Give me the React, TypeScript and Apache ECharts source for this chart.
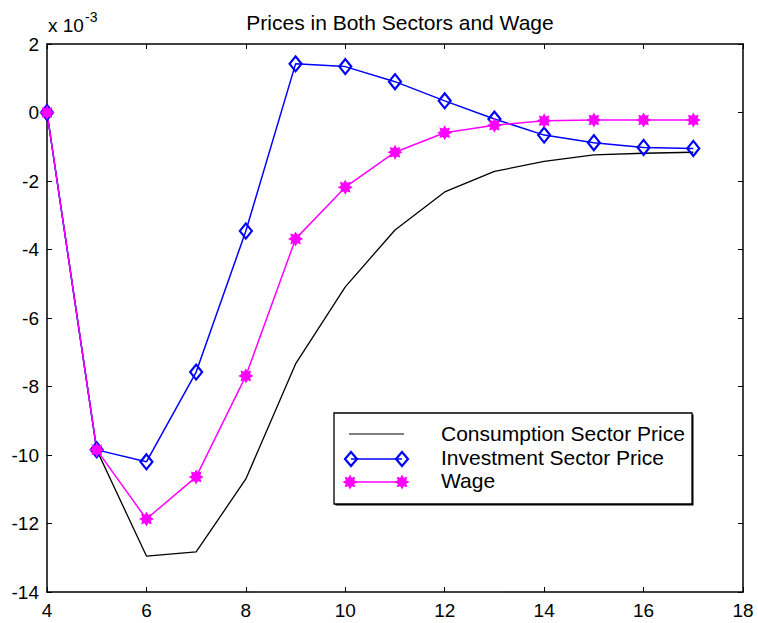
import React, { useEffect, useRef } from "react";
import * as echarts from "echarts";

const xValues = [4, 5, 6, 7, 8, 9, 10, 11, 12, 13, 14, 15, 16, 17];
const consumptionPrice = [0, -9.85, -12.95, -12.83, -10.7, -7.34, -5.09, -3.43, -2.32, -1.72, -1.43, -1.24, -1.19, -1.16];
const investmentPrice = [0, -9.85, -10.2, -7.58, -3.46, 1.42, 1.34, 0.9, 0.34, -0.19, -0.66, -0.88, -1.02, -1.05];
const wage = [0, -9.85, -11.87, -10.64, -7.69, -3.69, -2.18, -1.16, -0.59, -0.37, -0.24, -0.22, -0.22, -0.22];
const seriesNames = ["Consumption Sector Price", "Investment Sector Price", "Wage"];
const titleText = "Prices in Both Sectors and Wage";

function starPoints(cx: number, cy: number, R: number, r: number): number[][] {
  const pts: number[][] = [];
  for (let k = 0; k < 16; k++) {
    const a = (k * Math.PI) / 8;
    const rr = k % 2 === 0 ? R : r;
    pts.push([cx + rr * Math.cos(a), cy + rr * Math.sin(a)]);
  }
  return pts;
}

function starPath(): string {
  const pts = starPoints(10, 10, 10, 6.2).map((p) => `${p[0].toFixed(2)} ${p[1].toFixed(2)}`);
  return "path://M" + pts.join(" L") + " Z";
}

const FONT = "'Liberation Sans', Arial, sans-serif";

export default function App() {
  const ref = useRef<HTMLDivElement>(null);
  useEffect(() => {
    if (!ref.current) return;
    const chart = echarts.init(ref.current, null, { renderer: "svg" });
    const star = starPath();
    const toPairs = (arr: number[]) => arr.map((v, i) => [xValues[i], v]);
    const axisCommon = {
      axisLine: { show: true, onZero: false, lineStyle: { color: "#000", width: 1.5 } },
      axisTick: { show: true, inside: true, length: 5, lineStyle: { color: "#000", width: 1 } },
      splitLine: { show: false },
    };
    const legX = 334, legY = 413, legW = 358, legH = 91;
    const rowY = [435, 459, 482];
    chart.setOption({
      animation: false,
      backgroundColor: "#fff",
      title: {
        text: titleText,
        left: 395,
        textAlign: "center",
        top: 7,
        textStyle: { fontFamily: FONT, fontSize: 21, fontWeight: "normal", color: "#000" },
      },
      grid: { left: 47, right: 15, top: 44, bottom: 31 },
      xAxis: [
        {
          type: "value", min: 4, max: 18, interval: 2, position: "bottom",
          ...axisCommon,
          axisLabel: { fontFamily: FONT, fontSize: 19, color: "#000", margin: 9 },
        },
        {
          type: "value", min: 4, max: 18, interval: 2, position: "top",
          ...axisCommon,
          axisLabel: { show: false },
        },
      ],
      yAxis: [
        {
          type: "value", min: -14, max: 2, interval: 2, position: "left",
          ...axisCommon,
          axisLabel: { fontFamily: FONT, fontSize: 19, color: "#000", margin: 8 },
        },
        {
          type: "value", min: -14, max: 2, interval: 2, position: "right",
          ...axisCommon,
          axisLabel: { show: false },
        },
      ],
      series: [
        {
          name: seriesNames[0], type: "line", data: toPairs(consumptionPrice),
          showSymbol: false, symbol: "none",
          lineStyle: { color: "#000", width: 1.3 },
        },
        {
          name: seriesNames[1], type: "line", data: toPairs(investmentPrice),
          symbol: "diamond", symbolSize: [12, 15],
          itemStyle: { color: "none", borderColor: "#0000ff", borderWidth: 2.2 },
          lineStyle: { color: "#0000ff", width: 1.5 },
        },
        {
          name: seriesNames[2], type: "line", data: toPairs(wage),
          symbol: star, symbolSize: 15,
          itemStyle: { color: "#ff00ff", borderWidth: 0 },
          lineStyle: { color: "#ff00ff", width: 1.5 },
        },
      ],
      graphic: [
        {
          type: "text", x: 48, y: 35,
          style: { text: "x 10", fontFamily: FONT, fontSize: 19, fill: "#000", verticalAlign: "bottom" },
        },
        {
          type: "text", x: 85, y: 24,
          style: { text: "-3", fontFamily: FONT, fontSize: 14, fill: "#000", verticalAlign: "bottom" },
        },
        {
          type: "rect", shape: { x: legX + 1.5, y: legY + 1.5, width: legW, height: legH },
          style: { fill: "#000", stroke: "none" }, z: 10,
        },
        {
          type: "rect", shape: { x: legX, y: legY, width: legW, height: legH },
          style: { fill: "#fff", stroke: "#000", lineWidth: 1.3 }, z: 11,
        },
        { type: "line", shape: { x1: 349, y1: rowY[0] - 1, x2: 404, y2: rowY[0] - 1 }, style: { stroke: "#000", lineWidth: 1.2 }, z: 12 },
        { type: "line", shape: { x1: 351, y1: rowY[1], x2: 402, y2: rowY[1] }, style: { stroke: "#0000ff", lineWidth: 1.5 }, z: 12 },
        { type: "polygon", shape: { points: [[351, rowY[1] - 7], [357, rowY[1]], [351, rowY[1] + 7], [345, rowY[1]]] }, style: { fill: "none", stroke: "#0000ff", lineWidth: 2.2 }, z: 13 },
        { type: "polygon", shape: { points: [[402, rowY[1] - 7], [408, rowY[1]], [402, rowY[1] + 7], [396, rowY[1]]] }, style: { fill: "none", stroke: "#0000ff", lineWidth: 2.2 }, z: 13 },
        { type: "line", shape: { x1: 350, y1: rowY[2], x2: 402, y2: rowY[2] }, style: { stroke: "#ff00ff", lineWidth: 1.5 }, z: 12 },
        ...[350, 402].map((cx) => ({
          type: "polygon", shape: { points: starPoints(cx, rowY[2], 7.5, 4.6) },
          style: { fill: "#ff00ff", stroke: "none" }, z: 13,
        })),
        ...seriesNames.map((n, i) => ({
          type: "text", x: 441, y: rowY[i] - 2,
          style: { text: n, fontFamily: FONT, fontSize: 21, fill: "#000", verticalAlign: "middle" }, z: 13,
        })),
      ],
    });
    return () => chart.dispose();
  }, []);
  return <div ref={ref} style={{ position: "fixed", left: 0, top: 0, width: 758, height: 623 }} />;
}
